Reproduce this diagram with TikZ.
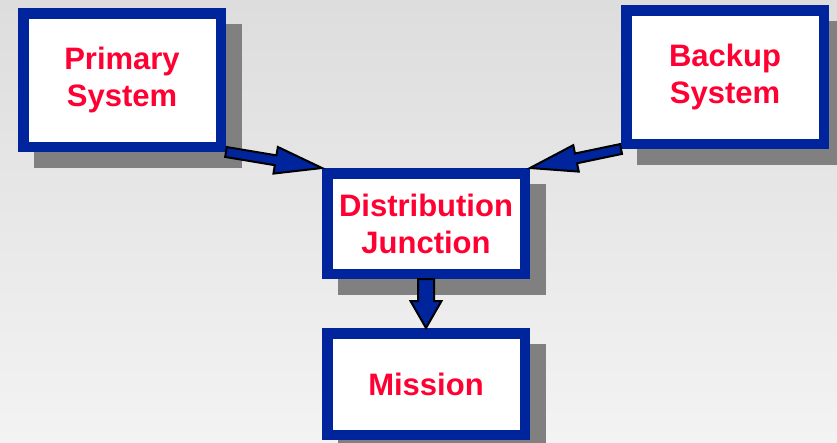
\documentclass[tikz,border=0pt]{standalone}
\usepackage{fontspec}
\setmainfont{Liberation Sans}
\usetikzlibrary{calc,shadows}

\definecolor{boxblue}{RGB}{0,36,156}
\definecolor{textred}{RGB}{255,0,51}
\definecolor{shadowgray}{RGB}{128,128,128}
\definecolor{bgtop}{RGB}{221,221,221}
\definecolor{bgbottom}{RGB}{243,243,243}

% block arrow: from, to, half shaft, half head, head length
\newcommand{\fatarrow}[5]{%
	\coordinate (hb) at ($(#2)!#5!(#1)$);
	\filldraw [fat arrow] ($(#1)!#3!90:(#2)$) -- ($(hb)!#3!90:(#2)$) -- ($(hb)!#4!90:(#2)$)
	-- (#2) -- ($(hb)!#4!-90:(#2)$) -- ($(hb)!#3!-90:(#2)$) -- ($(#1)!#3!-90:(#2)$) -- cycle;
}

\begin{document}
\begin{tikzpicture}[x=1pt, y=-1pt,
	every box/.style={draw=boxblue, line width=10.5pt, fill=white, text=textred, align=center,
		minimum width=197.5pt, font=\fontsize{31}{37}\selectfont\bfseries,
		drop shadow={shadow xshift=16pt, shadow yshift=-16pt, opacity=1, fill=shadowgray, draw=shadowgray, line width=10.5pt}},
	fat arrow/.style={fill=boxblue, draw=black, line width=2pt}]
	
	\useasboundingbox (0,0) rectangle (837,442);
	\clip (0,0) rectangle (837,442);
	\shade [top color=bgtop, bottom color=bgbottom] (0,0) rectangle (837,442);
	
	\foreach \n/\t/\x/\y/\h in {prim/{Primary\\System}/122/80/133.5, back/{Backup\\System}/725/77/133.5,
		dist/{Distribution\\Junction}/426/223.5/100.5, mis/{Mission}/426/384/101.5}
	\node [every box, minimum height=\h pt] (\n) at (\x,\y) {\t};
	
	\fatarrow{prim.south east}{dist.north west}{5pt}{13.5pt}{47pt}
	\fatarrow{back.south west}{dist.north east}{5pt}{13.5pt}{47pt}
	\fatarrow{dist.south}{mis.north}{8pt}{15.5pt}{27pt}
\end{tikzpicture}
\end{document}
